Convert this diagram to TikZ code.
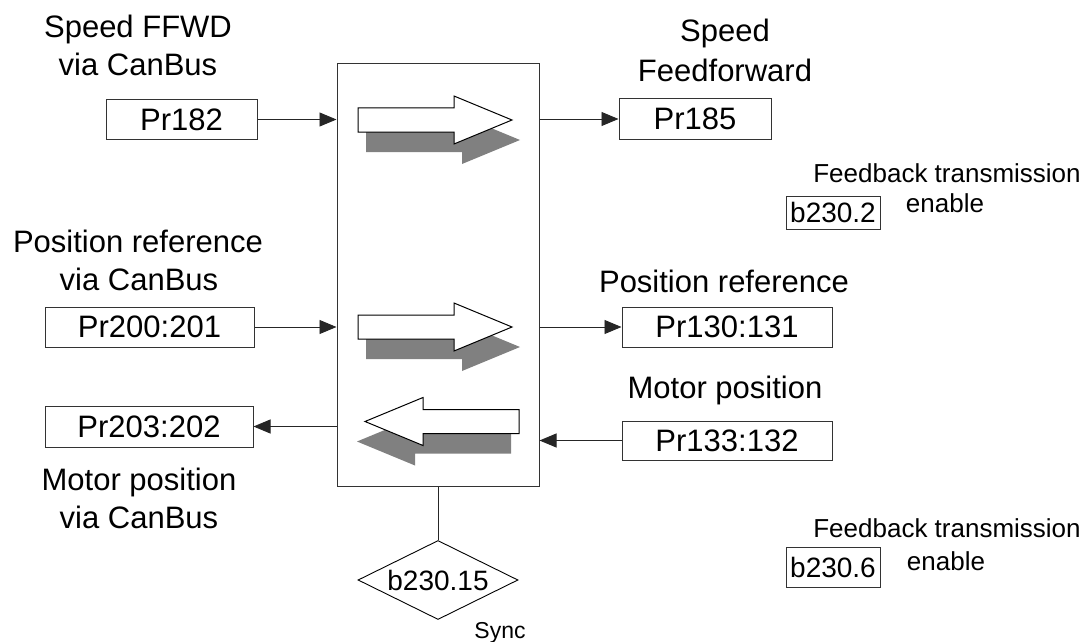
\documentclass[tikz,border=0pt]{standalone}
\usepackage{fontspec}
\setmainfont{Liberation Sans}
\usetikzlibrary{arrows.meta,shapes.geometric}
\begin{document}
\begin{tikzpicture}[x=1pt,y=-1pt,
  big/.style={font=\fontsize{31}{36}\selectfont},
  small/.style={font=\fontsize{26}{30}\selectfont},
  bits/.style={font=\fontsize{28}{32}\selectfont},
  lbl/.style={big,anchor=base,inner sep=0},
  slbl/.style={small,anchor=base,inner sep=0},
  reg/.style={draw=black!80,line width=1pt,big,inner sep=0,fill=white},
  bitbox/.style={draw=black!80,line width=1pt,bits,inner sep=0},
  conn/.style={draw=black!85,line width=0.9pt,-{Triangle[length=17pt,width=14pt]}},
  wire/.style={draw=black!85,line width=0.9pt},
  blockarrow/.pic={
    \fill[black!50] (8,8) -- (104,8) -- (104,-4) -- (162,20) -- (104,44) -- (104,32) -- (8,32) -- cycle;
    \draw[black,line width=1pt,fill=white] (0,-12) -- (96,-12) -- (96,-24) -- (154,0) -- (96,24) -- (96,12) -- (0,12) -- cycle;
  }
]
\useasboundingbox (0,0) rectangle (1088,642);

% central block
\node[draw=black!80,line width=1pt,minimum width=202pt,minimum height=422pt,inner sep=0] (main) at (438,275) {};
\pic at (358,120) {blockarrow};
\pic at (358,327) {blockarrow};
\pic[xscale=-1] at (519,421.5) {blockarrow};

% registers
\node[reg,minimum width=151pt,minimum height=39pt] (pr182) at (181.5,119.5) {Pr182};
\node[reg,minimum width=152pt,minimum height=40pt] (pr185) at (695,119) {Pr185};
\node[reg,minimum width=209pt,minimum height=40pt] (pr200) at (149.5,327) {Pr200:201};
\node[reg,minimum width=210pt,minimum height=40pt] (pr130) at (727,327) {Pr130:131};
\node[reg,minimum width=208pt,minimum height=41pt] (pr203) at (149,426.5) {Pr203:202};
\node[reg,minimum width=210pt,minimum height=39pt] (pr133) at (727,440.5) {Pr133:132};

% labels
\node[lbl] (t1a) at (138,38) {Speed FFWD};
\node[lbl] (t1b) at (138,76) {via CanBus};
\node[lbl] (t2a) at (725,42) {Speed};
\node[lbl] (t2b) at (725,82) {Feedforward};
\node[lbl] (t3a) at (138,252) {Position reference};
\node[lbl] (t3b) at (139,290) {via CanBus};
\node[lbl] (t4) at (724,292) {Position reference};
\node[lbl] (t5) at (725,398) {Motor position};
\node[lbl] (t6a) at (139,490) {Motor position};
\node[lbl] (t6b) at (139,528) {via CanBus};

% feedback enables
\node[bitbox,minimum width=94pt,minimum height=33pt] (b2) at (833,212.5) {b230.2};
\node[slbl] (f1a) at (947,182) {Feedback transmission};
\node[slbl] (f1b) at (945,212) {enable};
\node[bitbox,minimum width=94pt,minimum height=40pt] (b6) at (833,567) {b230.6};
\node[slbl] (f2a) at (947,537) {Feedback transmission};
\node[slbl] (f2b) at (946,570) {enable};

% sync
\node[diamond,aspect=2,draw=black,line width=0.9pt,bits,minimum width=160pt,minimum height=79pt,inner sep=0] (sync) at (438,580) {b230.15};
\node[anchor=base,inner sep=0,font=\fontsize{23}{27}\selectfont] (synct) at (500,638) {Sync};

% connectors
\draw[conn] (pr182.east) -- (pr182.east -| main.west);
\draw[conn] (main.east |- pr185.west) -- (pr185.west);
\draw[conn] (pr200.east) -- (pr200.east -| main.west);
\draw[conn] (main.east |- pr130.west) -- (pr130.west);
\draw[conn] (main.west |- pr203.east) -- (pr203.east);
\draw[conn] (pr133.west) -- (pr133.west -| main.east);
\draw[wire] (main.south) -- (sync.north);
\end{tikzpicture}
\end{document}
